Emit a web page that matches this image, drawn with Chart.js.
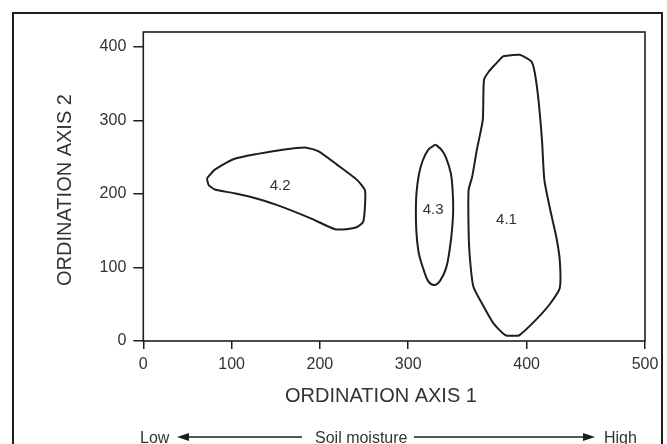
<!DOCTYPE html>
<html>
<head>
<meta charset="utf-8">
<script src="https://cdn.jsdelivr.net/npm/chart.js@4/dist/chart.umd.min.js"></script>
<style>
  body { margin: 0; background: #fff; }
  #chart { display: block; }
</style>
</head>
<body>
<canvas id="chart" width="667" height="444"></canvas>
<script>
// axis ticks
const xTicks = [0, 100, 200, 300, 400, 500];
const yTicks = [0, 100, 200, 300, 400];

// group 4.1 outline (clockwise from top)
const group41X = [380, 394, 404, 407, 410, 413, 415, 420, 425, 428, 428, 420, 408, 394, 389, 382, 372, 363, 355, 352, 351, 351, 354, 358, 363, 364, 368, 373, 380];
const group41Y = [387, 389, 380, 364, 328, 273, 219, 178, 142, 110, 72, 51, 29, 8, 7, 8, 24, 49, 74, 115, 151, 205, 223, 260, 301, 355, 366, 375, 387];

// group 4.2 outline (clockwise from left tip)
const group42X = [72, 81, 102, 128, 158, 183, 198, 219, 242, 251, 251, 249, 242, 230, 217, 189, 151, 121, 102, 81, 74, 72];
const group42Y = [221, 233, 247, 254, 260, 263, 258, 240, 219, 205, 183, 162, 155, 152, 152, 167, 185, 196, 201, 206, 212, 221];

// group 4.3 outline (clockwise from top)
const group43X = [323, 328, 332, 336, 337.5, 338, 337, 335, 332, 327, 322, 317, 313, 309, 307, 306.5, 307, 309, 312, 317, 323];
const group43Y = [267, 260, 249, 228, 205, 178, 151, 124, 99, 82, 76, 81, 97, 119, 147, 174, 201, 226, 244, 260, 267];

// group labels
const groupNames = ['4.1', '4.2', '4.3'];
const groupLabelX = [383, 155, 321];
const groupLabelY = [165, 211, 178];

// the printed x axis is not even: 0-300 takes a shorter stretch than 300-500
const xBreakValues = [0, 300, 500];
const xBreakDecimals = [0, 0.528, 1];

const FONT = "'Liberation Sans', Arial, Helvetica, sans-serif";
const INK = '#1e1e1e';
const TEXT = '#333';

function valueToDecimal(v) {
    for (let i = 1; i < xBreakValues.length; i++) {
        if (v <= xBreakValues[i] || i === xBreakValues.length - 1) {
            const v0 = xBreakValues[i - 1], v1 = xBreakValues[i];
            const d0 = xBreakDecimals[i - 1], d1 = xBreakDecimals[i];
            return d0 + (v - v0) / (v1 - v0) * (d1 - d0);
        }
    }
    return 0;
}
function decimalToValue(d) {
    for (let i = 1; i < xBreakDecimals.length; i++) {
        if (d <= xBreakDecimals[i] || i === xBreakDecimals.length - 1) {
            const v0 = xBreakValues[i - 1], v1 = xBreakValues[i];
            const d0 = xBreakDecimals[i - 1], d1 = xBreakDecimals[i];
            return v0 + (d - d0) / (d1 - d0) * (v1 - v0);
        }
    }
    return 0;
}

// linear scale with a bend in it
class BentScale extends Chart.LinearScale {
    getPixelForValue(value) {
        if (value === null || value === undefined) return NaN;
        return this.getPixelForDecimal(valueToDecimal(value));
    }
    getValueForPixel(pixel) {
        return decimalToValue(this.getDecimalForPixel(pixel));
    }
}
BentScale.id = 'bent';
BentScale.defaults = Chart.LinearScale.defaults;
Chart.register(BentScale);

function toPoints(xs, ys) {
    return xs.map((x, i) => ({ x: x, y: ys[i] }));
}

function outline(points, tension) {
    return {
        data: points,
        showLine: true,
        borderColor: INK,
        borderWidth: 2,
        pointRadius: 0,
        fill: false,
        tension: tension
    };
}

// extra drawing: box, frame, group labels, axis titles, soil moisture row
const decorPlugin = {
    id: 'decor',
    beforeDraw(chart) {
        const ctx = chart.ctx;
        ctx.save();
        ctx.fillStyle = '#fff';
        ctx.fillRect(0, 0, chart.width, chart.height);
        ctx.restore();
    },
    afterDraw(chart) {
        const { ctx, chartArea: a, scales } = chart;
        ctx.save();
        ctx.strokeStyle = INK;
        ctx.lineWidth = 1.6;
        ctx.strokeRect(a.left, a.top, a.right - a.left, a.bottom - a.top);

        // outer frame
        ctx.lineWidth = 2;
        ctx.strokeRect(13, 13, 649, 460);

        // group labels
        ctx.fillStyle = TEXT;
        ctx.font = '15px ' + FONT;
        ctx.textAlign = 'center';
        ctx.textBaseline = 'middle';
        groupNames.forEach((name, i) => {
            ctx.fillText(name, scales.x.getPixelForValue(groupLabelX[i]), scales.y.getPixelForValue(groupLabelY[i]));
        });

        // axis titles
        ctx.font = '20px ' + FONT;
        ctx.textBaseline = 'alphabetic';
        ctx.fillText('ORDINATION AXIS 1', 381, 402);
        ctx.save();
        ctx.translate(71, 190);
        ctx.rotate(-Math.PI / 2);
        ctx.fillText('ORDINATION AXIS 2', 0, 0);
        ctx.restore();

        // soil moisture row
        ctx.font = '16px ' + FONT;
        ctx.textAlign = 'left';
        ctx.fillText('Low', 140, 443);
        ctx.fillText('Soil moisture', 315, 443);
        ctx.fillText('High', 604, 443);

        const ay = 437;
        ctx.strokeStyle = INK;
        ctx.fillStyle = INK;
        ctx.lineWidth = 1.3;
        ctx.beginPath();
        ctx.moveTo(184, ay); ctx.lineTo(302, ay);
        ctx.moveTo(414, ay); ctx.lineTo(588, ay);
        ctx.stroke();
        ctx.beginPath();
        ctx.moveTo(177, ay); ctx.lineTo(189, ay - 4); ctx.lineTo(189, ay + 4); ctx.closePath();
        ctx.fill();
        ctx.beginPath();
        ctx.moveTo(595, ay); ctx.lineTo(583, ay - 4); ctx.lineTo(583, ay + 4); ctx.closePath();
        ctx.fill();
        ctx.restore();
    }
};

const ctx = document.getElementById('chart').getContext('2d');

new Chart(ctx, {
    type: 'scatter',
    data: {
        datasets: [
            outline(toPoints(group41X, group41Y), 0.2),
            outline(toPoints(group42X, group42Y), 0.2),
            outline(toPoints(group43X, group43Y), 0.4)
        ]
    },
    options: {
        responsive: false,
        animation: false,
        layout: {
            padding: { left: 0, top: 32, right: 22, bottom: 0 }
        },
        plugins: {
            legend: { display: false },
            tooltip: { enabled: false }
        },
        scales: {
            x: {
                type: 'bent',
                min: xTicks[0],
                max: xTicks[xTicks.length - 1],
                afterFit: (scale) => { scale.height = 103; },
                afterBuildTicks: (scale) => { scale.ticks = xTicks.map(v => ({ value: v })); },
                ticks: {
                    callback: (v) => String(v),
                    color: TEXT,
                    font: { family: FONT, size: 16 },
                    padding: 6,
                    maxRotation: 0
                },
                grid: {
                    drawOnChartArea: false,
                    drawTicks: true,
                    tickLength: 8,
                    color: INK,
                    lineWidth: 1.5
                },
                border: { display: false }
            },
            y: {
                min: 0,
                max: 420,
                afterFit: (scale) => { scale.width = 143.3; },
                afterBuildTicks: (scale) => { scale.ticks = yTicks.map(v => ({ value: v })); },
                ticks: {
                    callback: (v) => String(v),
                    color: TEXT,
                    font: { family: FONT, size: 16 },
                    padding: 7
                },
                grid: {
                    drawOnChartArea: false,
                    drawTicks: true,
                    tickLength: 10,
                    color: INK,
                    lineWidth: 1.5
                },
                border: { display: false }
            }
        }
    },
    plugins: [decorPlugin]
});
</script>
</body>
</html>
